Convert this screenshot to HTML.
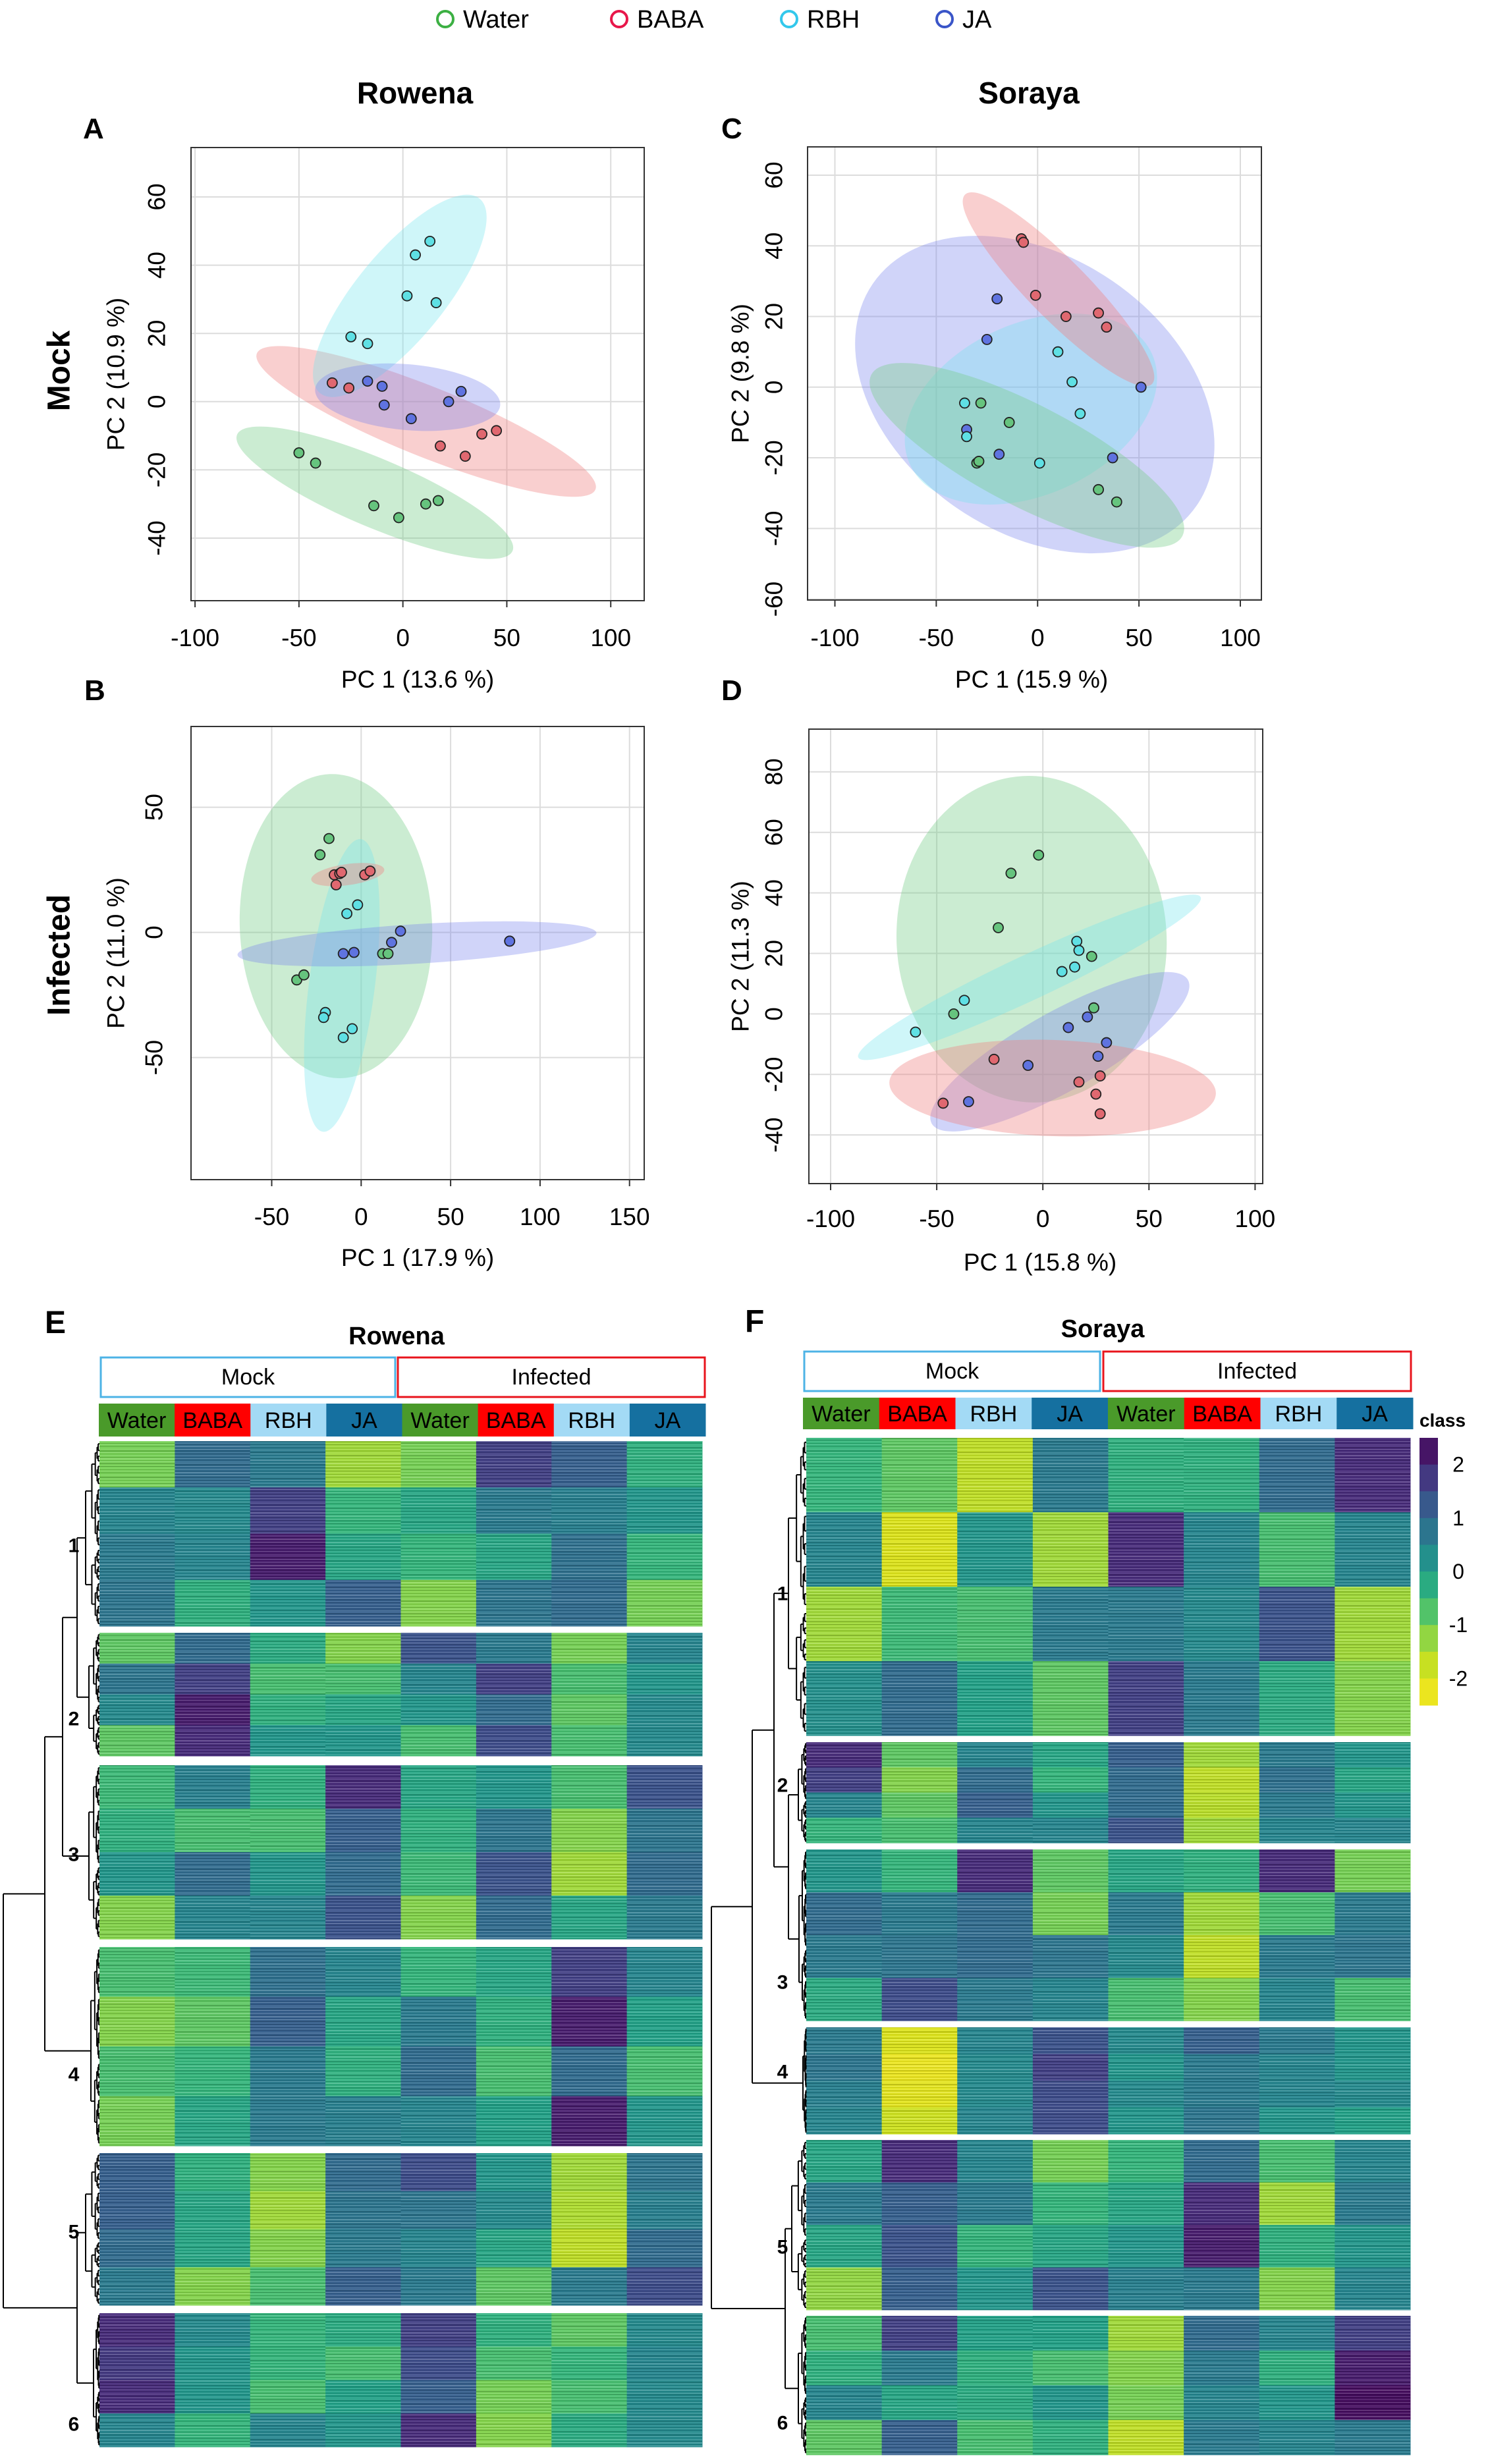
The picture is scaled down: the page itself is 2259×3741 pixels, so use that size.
<!DOCTYPE html>
<html><head><meta charset="utf-8"><title>PCA and heatmap figure</title>
<style>
html,body{margin:0;padding:0;background:#fff;}
svg{display:block;}
text{font-family:"Liberation Sans",sans-serif;fill:#000;}
.nar{font-family:"Liberation Sans Narrow","Liberation Sans",sans-serif;}
</style></head>
<body>
<svg id="fig" xmlns="http://www.w3.org/2000/svg" width="2259" height="3741" viewBox="0 0 2259 3741">
<rect x="0" y="0" width="2259" height="3741" fill="#fff"/>
<defs id="defs"></defs>
<g font-size="38">
  <g><circle cx="676" cy="29" r="12" fill="none" stroke="#3cb043" stroke-width="4"/><text x="703" y="42">Water</text></g>
  <g><circle cx="940" cy="29" r="12" fill="none" stroke="#e8174a" stroke-width="4"/><text x="967" y="42">BABA</text></g>
  <g><circle cx="1198" cy="29" r="12" fill="none" stroke="#33c8ec" stroke-width="4"/><text x="1225" y="42">RBH</text></g>
  <g><circle cx="1434" cy="29" r="12" fill="none" stroke="#3a55c8" stroke-width="4"/><text x="1461" y="42">JA</text></g>
</g>
<text x="630" y="157" font-size="46" font-weight="bold" text-anchor="middle">Rowena</text>
<text x="1562" y="157" font-size="46" font-weight="bold" text-anchor="middle">Soraya</text>
<text x="126" y="210" font-size="44" font-weight="bold">A</text>
<text x="1095" y="210" font-size="44" font-weight="bold">C</text>
<text x="128" y="1063" font-size="44" font-weight="bold">B</text>
<text x="1095" y="1063" font-size="44" font-weight="bold">D</text>
<text x="90" y="563" font-size="48" font-weight="bold" text-anchor="middle" dominant-baseline="central" transform="rotate(-90 90 563)">Mock</text>
<text x="90" y="1450" font-size="48" font-weight="bold" text-anchor="middle" dominant-baseline="central" transform="rotate(-90 90 1450)">Infected</text>
<g id="pca"></g>
<text x="68" y="2024" font-size="48" font-weight="bold">E</text>
<text x="602" y="2041" font-size="38" font-weight="bold" text-anchor="middle" class="nar">Rowena</text>
<text x="1131" y="2022" font-size="48" font-weight="bold">F</text>
<text x="1674" y="2030" font-size="38" font-weight="bold" text-anchor="middle" class="nar">Soraya</text>
<g id="heat"></g>
<text x="2190" y="2166" font-size="28" font-weight="bold" text-anchor="middle" class="nar">class</text>
</svg>
<script>
const A_water = [[-50,-15],[-42,-18],[-14,-30.5],[-2,-34],[11,-30],[17,-29]];
const A_baba  = [[-34,5.5],[-26,4],[18,-13],[30,-16],[38,-9.5],[45,-8.5]];
const A_rbh   = [[13,47],[6,43],[2,31],[16,29],[-25,19],[-17,17]];
const A_ja    = [[-17,6],[-10,4.5],[-9,-1],[4,-5],[22,0],[28,3]];

const C_water = [[-28,-4.5],[-14,-10],[-30,-21.5],[-29,-21],[30,-29],[39,-32.5]];
const C_baba  = [[-8,42],[-7,41],[-1,26],[14,20],[30,21],[34,17]];
const C_rbh   = [[10,10],[17,1.5],[-36,-4.5],[-35,-14],[21,-7.5],[1,-21.5]];
const C_ja    = [[-20,25],[-25,13.5],[51,0],[-35,-12],[-19,-19],[37,-20]];

const B_water = [[-18,37.5],[-23,31],[-36,-19],[-32,-17],[12,-8.5],[15,-8.5]];
const B_baba  = [[-15,23],[-12,23.5],[-11,24],[-14,19],[2,23],[5,24.5]];
const B_rbh   = [[-2,11],[-8,7.5],[-20,-32],[-21,-34],[-5,-38.5],[-10,-42]];
const B_ja    = [[22,0.5],[17,-4],[-10,-8.5],[-4,-8],[83,-3.5],[83,-3.5]];

const D_water = [[-2,52.5],[-15,46.5],[-21,28.5],[23,19],[-42,0],[24,2]];
const D_baba  = [[-23,-15],[17,-22.5],[27,-20.5],[25,-26.5],[27,-33],[-47,-29.5]];
const D_rbh   = [[16,24],[17,21],[15,15.5],[9,14],[-37,4.5],[-60,-6]];
const D_ja    = [[21,-1],[12,-4.5],[30,-9.5],[26,-14],[-7,-17],[-35,-29]];

const A_ellipseCenters = [[-13.5,-26.7],[11.2,-5.8],[-1.5,31.0],[2.3,1.3]];
const C_ellipseCenters = [[-5.3,-19.3],[10.3,27.7],[-3.3,-6.2],[-1.4,-2.1]];
const B_ellipseCenters = [[-14.1,2.5],[-7.5,23.1],[-10.8,-21.2],[31.2,-4.6]];
const D_ellipseCenters = [[-5.3,24.7],[4.6,-24.5],[-6.3,12.1],[8.0,-12.5]];

const xTicksA = [-100,-50,0,50,100], yTicksA = [-40,-20,0,20,40,60];
const xTicksC = [-100,-50,0,50,100], yTicksC = [-60,-40,-20,0,20,40,60];
const xTicksB = [-50,0,50,100,150],  yTicksB = [-50,0,50];
const xTicksD = [-100,-50,0,50,100], yTicksD = [-40,-20,0,20,40,60,80];

const NS = 'http://www.w3.org/2000/svg';
function mk(tag, attrs, parent){
  const el = document.createElementNS(NS, tag);
  for (const k in attrs) el.setAttribute(k, attrs[k]);
  if (parent) parent.appendChild(el);
  return el;
}
const groups = ['water','baba','rbh','ja'];
const ptFill = {water:'#66c47e', baba:'#e06870', rbh:'#5fe0e4', ja:'#5f73e0'};
const elFill = {water:'rgb(118,205,138)', baba:'rgb(238,128,128)', rbh:'rgb(115,228,236)', ja:'rgb(118,128,236)'};
const elOp = {water:0.38, baba:0.38, rbh:0.34, ja:0.34};

const panels = [
 {id:'a', box:[290,224,978,912], x0:611.65, kx:3.1555, y0:609.8, ky:5.18, xt:xTicksA, yt:yTicksA, xtY:981, tickLx:238,
  ylab:'PC 2 (10.9 %)', ylx:176, xlab:'PC 1 (13.6 %)', xlY:1044, xlX:634,
  pts:{water:A_water,baba:A_baba,rbh:A_rbh,ja:A_ja}, ec:A_ellipseCenters,
  eshape:{water:[227,52,22.9], baba:[277,53,21.9], rbh:[191,67,-50.6], ja:[141,50,5]},
  order:['water','baba','rbh','ja']},
 {id:'c', box:[1226,223,1915,911], x0:1575.25, kx:3.0775, y0:587.8, ky:5.363, xt:xTicksC, yt:yTicksC, xtY:981, tickLx:1175,
  ylab:'PC 2 (9.8 %)', ylx:1124, xlab:'PC 1 (15.9 %)', xlY:1044, xlX:1566,
  pts:{water:C_water,baba:C_baba,rbh:C_rbh,ja:C_ja}, ec:C_ellipseCenters,
  eshape:{water:[266,77,27.4], baba:[202,45,45.4], rbh:[202,130,-24.6], ja:[298,209,34.4]},
  order:['ja','rbh','baba','water']},
 {id:'b', box:[290,1103,978,1791], x0:548.3, kx:2.716, y0:1415.6, ky:3.8, xt:xTicksB, yt:yTicksB, xtY:1860, tickLx:234,
  ylab:'PC 2 (11.0 %)', ylx:176, xlab:'PC 1 (17.9 %)', xlY:1922, xlX:634,
  pts:{water:B_water,baba:B_baba,rbh:B_rbh,ja:B_ja}, ec:B_ellipseCenters,
  eshape:{water:[231,146,87.6], baba:[56,16,-8], rbh:[224,50,97.4], ja:[273,30,-3.5]},
  order:['water','rbh','baba','ja']},
 {id:'d', box:[1228,1107,1917,1797], x0:1583.2, kx:3.222, y0:1539.4, ky:4.594, xt:xTicksD, yt:yTicksD, xtY:1863, tickLx:1175,
  ylab:'PC 2 (11.3 %)', ylx:1124, xlab:'PC 1 (15.8 %)', xlY:1929, xlX:1579,
  pts:{water:D_water,baba:D_baba,rbh:D_rbh,ja:D_ja}, ec:D_ellipseCenters,
  eshape:{water:[248,205,87], baba:[248,73,2], rbh:[287,34,-25.1], ja:[223,60,-29.3]},
  order:['water','rbh','ja','baba']}
];
const gPca = document.getElementById('pca');
panels.forEach(p => {
  const sx = v => p.x0 + v*p.kx;
  const sy = v => p.y0 - v*p.ky;
  const [L,T,R,Bt] = p.box;
  const g = mk('g', {}, gPca);
  
  
  p.xt.forEach(t => {
    const ln = mk('line', {x1:sx(t), x2:sx(t), y1:T, y2:Bt, stroke:'#dcdcdc', 'stroke-width':2}, g);
    
    
    const tk = mk('line', {x1:sx(t), x2:sx(t), y1:Bt, y2:Bt+10, stroke:'#333', 'stroke-width':2}, g);
    
    
    const tx = mk('text', {x:sx(t), y:p.xtY, 'font-size':37, 'text-anchor':'middle'}, g);
    tx.textContent = String(t);
    
    
  });
  p.yt.forEach(t => {
    const ln = mk('line', {x1:L, x2:R, y1:sy(t), y2:sy(t), stroke:'#dcdcdc', 'stroke-width':2}, g);
    
    
    const tx = mk('text', {x:p.tickLx, y:sy(t), 'font-size':37, 'text-anchor':'middle', 'dominant-baseline':'central', transform:`rotate(-90 ${p.tickLx} ${sy(t)})`}, g);
    tx.textContent = String(t);
    
    
  });
  p.order.forEach(k => {
    const i = groups.indexOf(k);
    const c = p.ec[i], sh = p.eshape[k];
    const cx = sx(c[0]), cy = sy(c[1]);
    const e = mk('ellipse', {cx:cx, cy:cy, rx:sh[0], ry:sh[1], transform:`rotate(${sh[2]} ${cx} ${cy})`, fill:elFill[k], 'fill-opacity':elOp[k]}, g);
    
    
  });
  p.order.forEach(k => {
    p.pts[k].forEach(pt => {
      const c = mk('circle', {cx:sx(pt[0]), cy:sy(pt[1]), r:7.5, fill:ptFill[k], stroke:'#222', 'stroke-width':1.8}, g);
      
      
    });
  });
  const box = mk('rect', {x:L, y:T, width:R-L, height:Bt-T, fill:'none', stroke:'#333', 'stroke-width':2}, g);
  
  
  const yl = mk('text', {x:p.ylx, y:(T+Bt)/2, 'font-size':37, 'text-anchor':'middle', 'dominant-baseline':'central', transform:`rotate(-90 ${p.ylx} ${(T+Bt)/2})`}, g);
  yl.textContent = p.ylab;
  
  
  const xl = mk('text', {x:p.xlX, y:p.xlY, 'font-size':37, 'text-anchor':'middle'}, g);
  xl.textContent = p.xlab;
  
  
});

const sampleLabels = ['Water','BABA','RBH','JA','Water','BABA','RBH','JA'];
const clusterLabels = ['1','2','3','4','5','6'];
const E_c1 = [[-1.2,0.3,0.5,0.6],[0.8,0.2,0.3,-0.5],[0.5,1.5,2,0],[-1.5,-0.6,-0.3,1],[-1.2,-0.3,-0.6,-1.3],[1.5,0.5,-0.3,0.6],[1,0.4,0.7,0.8],[-0.5,0,-0.6,-1.2]];
const E_c2 = [[-1,0.6,0.2,-1],[0.8,1.5,2,1.8],[-0.4,-0.8,-0.5,0],[-1.3,-0.8,-0.3,0],[1.2,0.3,0,-0.8],[0.5,1.5,0.8,1.3],[-1.2,-0.8,-1,-0.8],[0.3,0,0.2,0.2]];
const E_c3 = [[-0.7,-0.5,0,-1.3],[0.4,-0.8,0.8,0.3],[-0.5,-0.8,0,0.3],[1.8,1,0.8,1.2],[-0.3,-0.5,-0.7,-1.3],[0,0.6,1.2,0.8],[-0.8,-1.3,-1.5,-0.3],[1.2,0.6,0.8,0.5]];
const E_c4 = [[-0.8,-1.3,-0.8,-1.2],[-0.7,-1,-0.6,-0.3],[0.7,1,0.5,0.5],[0.3,-0.3,-0.5,0.4],[-0.6,0.5,0.8,0.3],[-0.3,-0.5,-0.8,-0.2],[1.5,2,0.8,2],[0.3,-0.2,-0.8,0]];
const E_c5 = [[1,1,0.8,0.5],[-0.5,-0.3,-0.3,-1.3],[-1.3,-1.5,-1.3,-0.8],[0.8,0.6,0.5,1],[1.3,0.6,0.3,0.5],[0,0.2,-0.3,-1],[-1.5,-1.6,-1.8,0.5],[0.6,0.4,0.8,1.3]];
const E_c6 = [[1.8,1.6,1.8,0.3],[0.2,0,0,-0.6],[-0.6,-0.6,-0.8,0.3],[-0.4,-0.8,-0.2,0],[1.5,1.3,1,1.8],[-0.5,-0.8,-1.2,-1.3],[-1,-0.6,-0.8,-0.4],[0.2,0.3,0.2,0.2]];
const F_c1 = [[-0.6,0.3,-1.5,0.1],[-1,-2.2,-0.7,0.8],[-1.8,0,-0.8,-0.2],[0.5,-1.5,0.5,-1],[-0.5,1.8,0.5,1.5],[-0.5,0.3,0.2,0.5],[0.8,-0.8,1.2,-0.4],[1.8,0.3,-1.5,-1.3]];
const F_c2 = [[1.8,1.5,0.3,-0.6],[-1,-1.3,-1,-0.8],[0.3,0.8,1,0.3],[-0.3,-0.6,0,0.3],[1,0.8,0.8,1.2],[-1.5,-1.8,-1.7,-1.5],[0.5,0.7,0.5,0.3],[0,-0.3,0,0.3]];
const F_c3 = [[0,0.8,0.5,-0.4],[-0.6,0.5,0.6,1.3],[1.8,0.8,0.8,0.5],[-1,-1.2,0.6,0.3],[-0.3,0.5,0.2,-0.8],[-0.5,-1.5,-1.8,-1.3],[1.8,-0.8,0.5,0.3],[-1.2,0.5,0.6,-0.8]];
const F_c4 = [[0.5,0.6,0.4,0.3],[-2.2,-2.4,-2.3,-2],[0.3,0.2,0.2,0.3],[1.2,1.5,1.3,1.3],[0.2,0,0.2,0],[1,0.5,0.5,0.6],[0.5,0.3,0.3,0],[0,0,0.2,-0.2]];
const F_c5 = [[-0.3,0.5,-0.3,-1.4],[1.8,1,1.2,1],[0.3,0.5,-0.6,0],[-1.2,-0.6,-0.3,1.2],[-0.6,-0.3,0,0.4],[0.8,1.8,2,0.5],[-0.8,-1.5,-0.5,-1.3],[0.3,0.5,0,0.3]];
const F_c6 = [[-0.8,-0.5,0.3,-1],[1.5,0.5,-0.3,1],[-0.2,-0.5,-0.4,-0.8],[-0.2,-0.8,0,-0.5],[-1.5,-1.3,-1.2,-1.8],[0.8,0.5,0.3,0.5],[0.3,-0.5,0,0.3],[1.5,2,2.2,0.5]];
const colorbarTicks = [2,1,0,-1,-2];

const viridis = ['#440154','#482878','#3e4989','#31688e','#26828e','#1f9e89','#35b779','#6ece58','#b5de2b','#d8e219','#fde725'];
function hex2rgb(h){return [parseInt(h.slice(1,3),16),parseInt(h.slice(3,5),16),parseInt(h.slice(5,7),16)];}
function colorOf(v){
  let t = (2.5 - v)/5; t = Math.max(0, Math.min(1, t));
  const f = t*10, i = Math.min(9, Math.floor(f)), r = f - i;
  const a = hex2rgb(viridis[i]), b = hex2rgb(viridis[i+1]);
  return `rgb(${Math.round(a[0]+(b[0]-a[0])*r)},${Math.round(a[1]+(b[1]-a[1])*r)},${Math.round(a[2]+(b[2]-a[2])*r)})`;
}
function cellColor(v){ return colorOf(v + 0.15); }

const gHeat = document.getElementById('heat');
const defs = document.getElementById('defs');
// fine stripe textures (visual only)
const stripeSpec = [[0,1,'#fff',0.18],[2,2,'#000',0.16],[5,1,'#fff',0.25],[7,1,'#000',0.1],[9,2,'#fff',0.12],[12,1,'#000',0.2],[14,2,'#fff',0.2],[17,1,'#000',0.12],[19,1,'#fff',0.28],[21,2,'#000',0.14],[24,1,'#fff',0.15],[26,1,'#000',0.22],[28,2,'#fff',0.1],[31,1,'#000',0.15],[33,1,'#fff',0.22],[35,2,'#000',0.1],[38,1,'#fff',0.16]];
for (let c = 0; c < 8; c++) {
  const pat = mk('pattern', {id:'stripe'+c, width:20, height:40, patternUnits:'userSpaceOnUse', patternTransform:`translate(0 ${c*7})`}, defs);
  stripeSpec.forEach(s => mk('rect', {x:0, y:s[0], width:20, height:s[1], fill:s[2], 'fill-opacity':s[3]}, pat));
}
const grpColor = ['#4a9a2a','#ff0000','#a3daf5','#1570a0'];

const heatmaps = [
 {id:'e', clusters:[E_c1,E_c2,E_c3,E_c4,E_c5,E_c6], ranges:[[2188,2469],[2479,2666],[2680,2944],[2956,3258],[3269,3500],[3512,3715]],
  left:151, right:1066, barL:150, barR:1071, barT:2131, barB:2181, mock:[153,600], inf:[604,1070], boxT:2061, boxB:2121,
  tree:[5,[68,[95,[117,0,1],2],3],[117,4,5]], croot:[130,135,135,138,130,142], labX:112, labY:[2347,2610,2816,3150,3389,3681]},
 {id:'f', clusters:[F_c1,F_c2,F_c3,F_c4,F_c5,F_c6], ranges:[[2183,2635],[2645,2798],[2808,3068],[3078,3240],[3249,3507],[3516,3727]],
  left:1224, right:2141, barL:1219, barR:2145, barT:2122, barB:2170, mock:[1221,1670], inf:[1675,2142], boxT:2052, boxB:2112,
  tree:[1080,[1142,[1175,0,[1197,1,2]],3],[1192,4,5]], croot:[1197,1212,1213,1219,1202,1212], labX:1188, labY:[2420,2711,3010,3146,3412,3679]}
];

heatmaps.forEach(h => {
  const g = mk('g', {}, gHeat);
  
  
  const mb = mk('rect', {x:h.mock[0], y:h.boxT, width:h.mock[1]-h.mock[0], height:h.boxB-h.boxT, fill:'#fff', stroke:'#4db3e6', 'stroke-width':3}, g);
  
  
  const mt = mk('text', {x:(h.mock[0]+h.mock[1])/2, y:(h.boxT+h.boxB)/2, 'font-size':34, 'text-anchor':'middle', 'dominant-baseline':'central', class:'nar'}, g);
  mt.textContent = 'Mock';
  
  
  const ib = mk('rect', {x:h.inf[0], y:h.boxT, width:h.inf[1]-h.inf[0], height:h.boxB-h.boxT, fill:'#fff', stroke:'#e8141c', 'stroke-width':3}, g);
  
  
  const it = mk('text', {x:(h.inf[0]+h.inf[1])/2, y:(h.boxT+h.boxB)/2, 'font-size':34, 'text-anchor':'middle', 'dominant-baseline':'central', class:'nar'}, g);
  it.textContent = 'Infected';
  
  
  const bw = (h.barR - h.barL)/8;
  sampleLabels.forEach((lab, c) => {
    const r = mk('rect', {x:h.barL + c*bw, y:h.barT, width:bw+0.5, height:h.barB-h.barT, fill:grpColor[c%4]}, g);
    
    
    const t = mk('text', {x:h.barL + c*bw + bw/2, y:(h.barT+h.barB)/2+1, 'font-size':34, 'text-anchor':'middle', 'dominant-baseline':'central', class:'nar'}, g);
    t.textContent = lab;
    
    
  });
  const cw = (h.right - h.left)/8;
  h.clusters.forEach((cl, k) => {
    const [y1, y2] = h.ranges[k];
    cl.forEach((segs, c) => {
      const sh = (y2 - y1)/segs.length;
      segs.forEach((v, s) => {
        const r = mk('rect', {x:h.left + c*cw, y:y1 + s*sh, width:cw+0.5, height:sh+0.5, fill:cellColor(v)}, g);
        
        
      });
      const o = mk('rect', {x:h.left + c*cw, y:y1, width:cw, height:y2-y1, fill:`url(#stripe${(c*3+k)%8})`}, g);
      
      
    });
  });
  const path = [];
  function sub(x, y1, y2, depth){
    if (depth === 0) { return (y1+y2)/2; }
    const ratio = [0.5,0.42,0.58][depth%3];
    const m = y1 + (y2-y1)*ratio;
    const cx = x + (h.left - x)*0.45;
    const a = sub(cx, y1, m, depth-1), b = sub(cx, m, y2, depth-1);
    const xa = depth-1 === 0 ? h.left : cx;
    path.push(`M${x} ${a}V${b}M${x} ${a}H${xa}M${x} ${b}H${xa}`);
    return (a+b)/2;
  }
  function node(t){
    if (typeof t === 'number') {
      const [y1,y2] = h.ranges[t];
      return {y: sub(h.croot[t], y1, y2, 5), x: h.croot[t]};
    }
    const x = t[0], a = node(t[1]), b = node(t[2]);
    path.push(`M${x} ${a.y}V${b.y}M${x} ${a.y}H${a.x}M${x} ${b.y}H${b.x}`);
    return {y:(a.y+b.y)/2, x:x};
  }
  node(h.tree);
  const d = mk('path', {d:path.join(''), fill:'none', stroke:'#000', 'stroke-width':2}, g);
  
  
  clusterLabels.forEach((lab, k) => {
    const t = mk('text', {x:h.labX, y:h.labY[k], 'font-size':30, 'font-weight':'bold', 'text-anchor':'middle', 'dominant-baseline':'central'}, g);
    t.textContent = lab;
    
    
  });
});

const cbT = 2183, cbB = 2589, cbX = 2155, cbW = 28, nSteps = 10;
const cbStep = (cbB - cbT)/nSteps;
for (let i = 0; i < nSteps; i++) {
  const v = 2.25 - i*0.5;
  const r = mk('rect', {x:cbX, y:cbT + i*cbStep, width:cbW, height:cbStep+0.5, fill:colorOf(v)}, gHeat);
  
  
}
colorbarTicks.forEach(v => {
  const y = cbT + (2.5 - v)/5*(cbB - cbT);
  const t = mk('text', {x:2214, y:y, 'font-size':32, 'text-anchor':'middle', 'dominant-baseline':'central', class:'nar'}, gHeat);
  t.textContent = String(v);
  
  
});
</script>
</body></html>
